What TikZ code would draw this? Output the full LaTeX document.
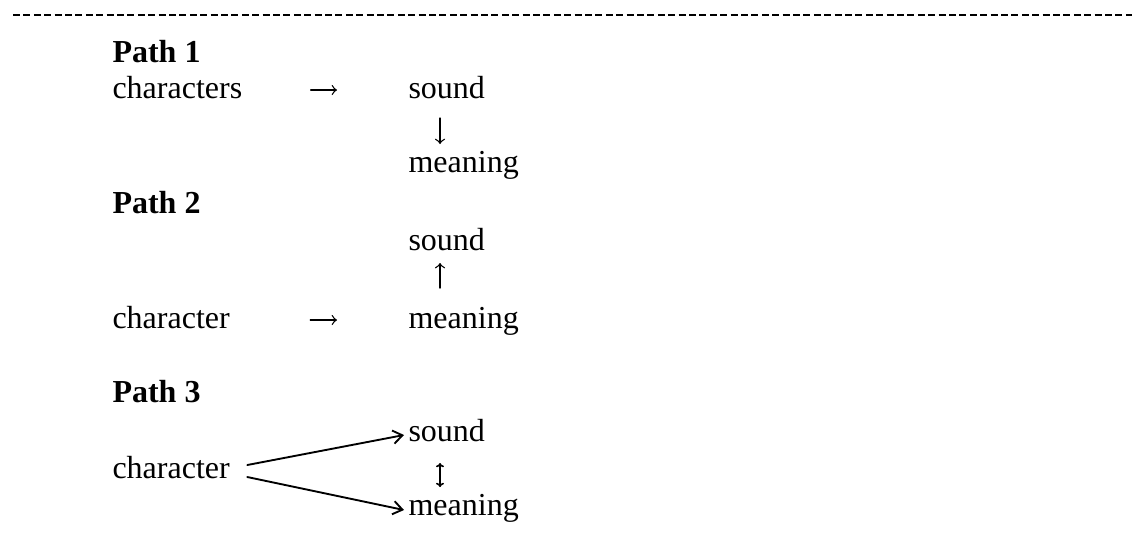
\documentclass[tikz,border=0pt]{standalone}
\usepackage{fontspec}
\setmainfont{Liberation Serif}
\usetikzlibrary{calc,arrows.meta}
\tikzset{
	word/.style={inner sep=0pt, anchor=base west, font=\fontsize{12}{14}\selectfont},
	pathlabel/.style={word, font=\fontsize{12}{14}\selectfont\bfseries},
	link/.style={->, line width=0.5pt},
	branch/.style={-{Straight Barb[length=3.5pt,width=5pt]}, line width=0.7pt},
}
\begin{document}
\begin{tikzpicture}[x=0.375pt, y=-0.375pt, >=to, line join=round, line cap=round]
					\useasboundingbox (0,0) rectangle (1132,544);
					\draw[line width=0.7pt, line cap=butt, dash pattern=on 2.6pt off 1.3pt] (13,15)--(1132,15);
					% Path 1
					\node[pathlabel] (p1) at (112,62) {Path 1};
					\node[word] (c1) at (112,98) {characters};
					\node[word] (s1) at (408,98) {sound};
					\node[word] (m1) at (408,172) {meaning};
					\draw[link] ($(c1.base east)+(68,-8)$)--($(s1.base west)+(-71,-8)$);
					\draw[link] ($(s1.base west)+(32,20)$)--($(m1.base west)+(32,-28)$);
					% Path 2
					\node[pathlabel] (p2) at (112,213) {Path 2};
					\node[word] (s2) at (408,250) {sound};
					\node[word] (c2) at (112,328) {character};
					\node[word] (m2) at (408,328) {meaning};
					\draw[link] ($(c2.base east)+(80,-8)$)--($(m2.base west)+(-71,-8)$);
					\draw[link] ($(m2.base west)+(32,-40)$)--($(s2.base west)+(32,13)$);
					% Path 3
					\node[pathlabel] (p3) at (112,402) {Path 3};
					\node[word] (s3) at (408,441) {sound};
					\node[word] (c3) at (112,478) {character};
					\node[word] (m3) at (408,515) {meaning};
					\draw[branch] ($(c3.base east)+(17,-13)$)--($(s3.base west)+(-4,-6)$);
					\draw[branch] ($(c3.base east)+(17,-1)$)--($(m3.base west)+(-4,-5)$);
					\draw[{To[length=1.6pt,width=3pt]}-{To[length=1.6pt,width=3pt]}, line width=0.6pt] ($(s3.base west)+(32,22)$)--($(m3.base west)+(32,-28)$);
\end{tikzpicture}
\end{document}
